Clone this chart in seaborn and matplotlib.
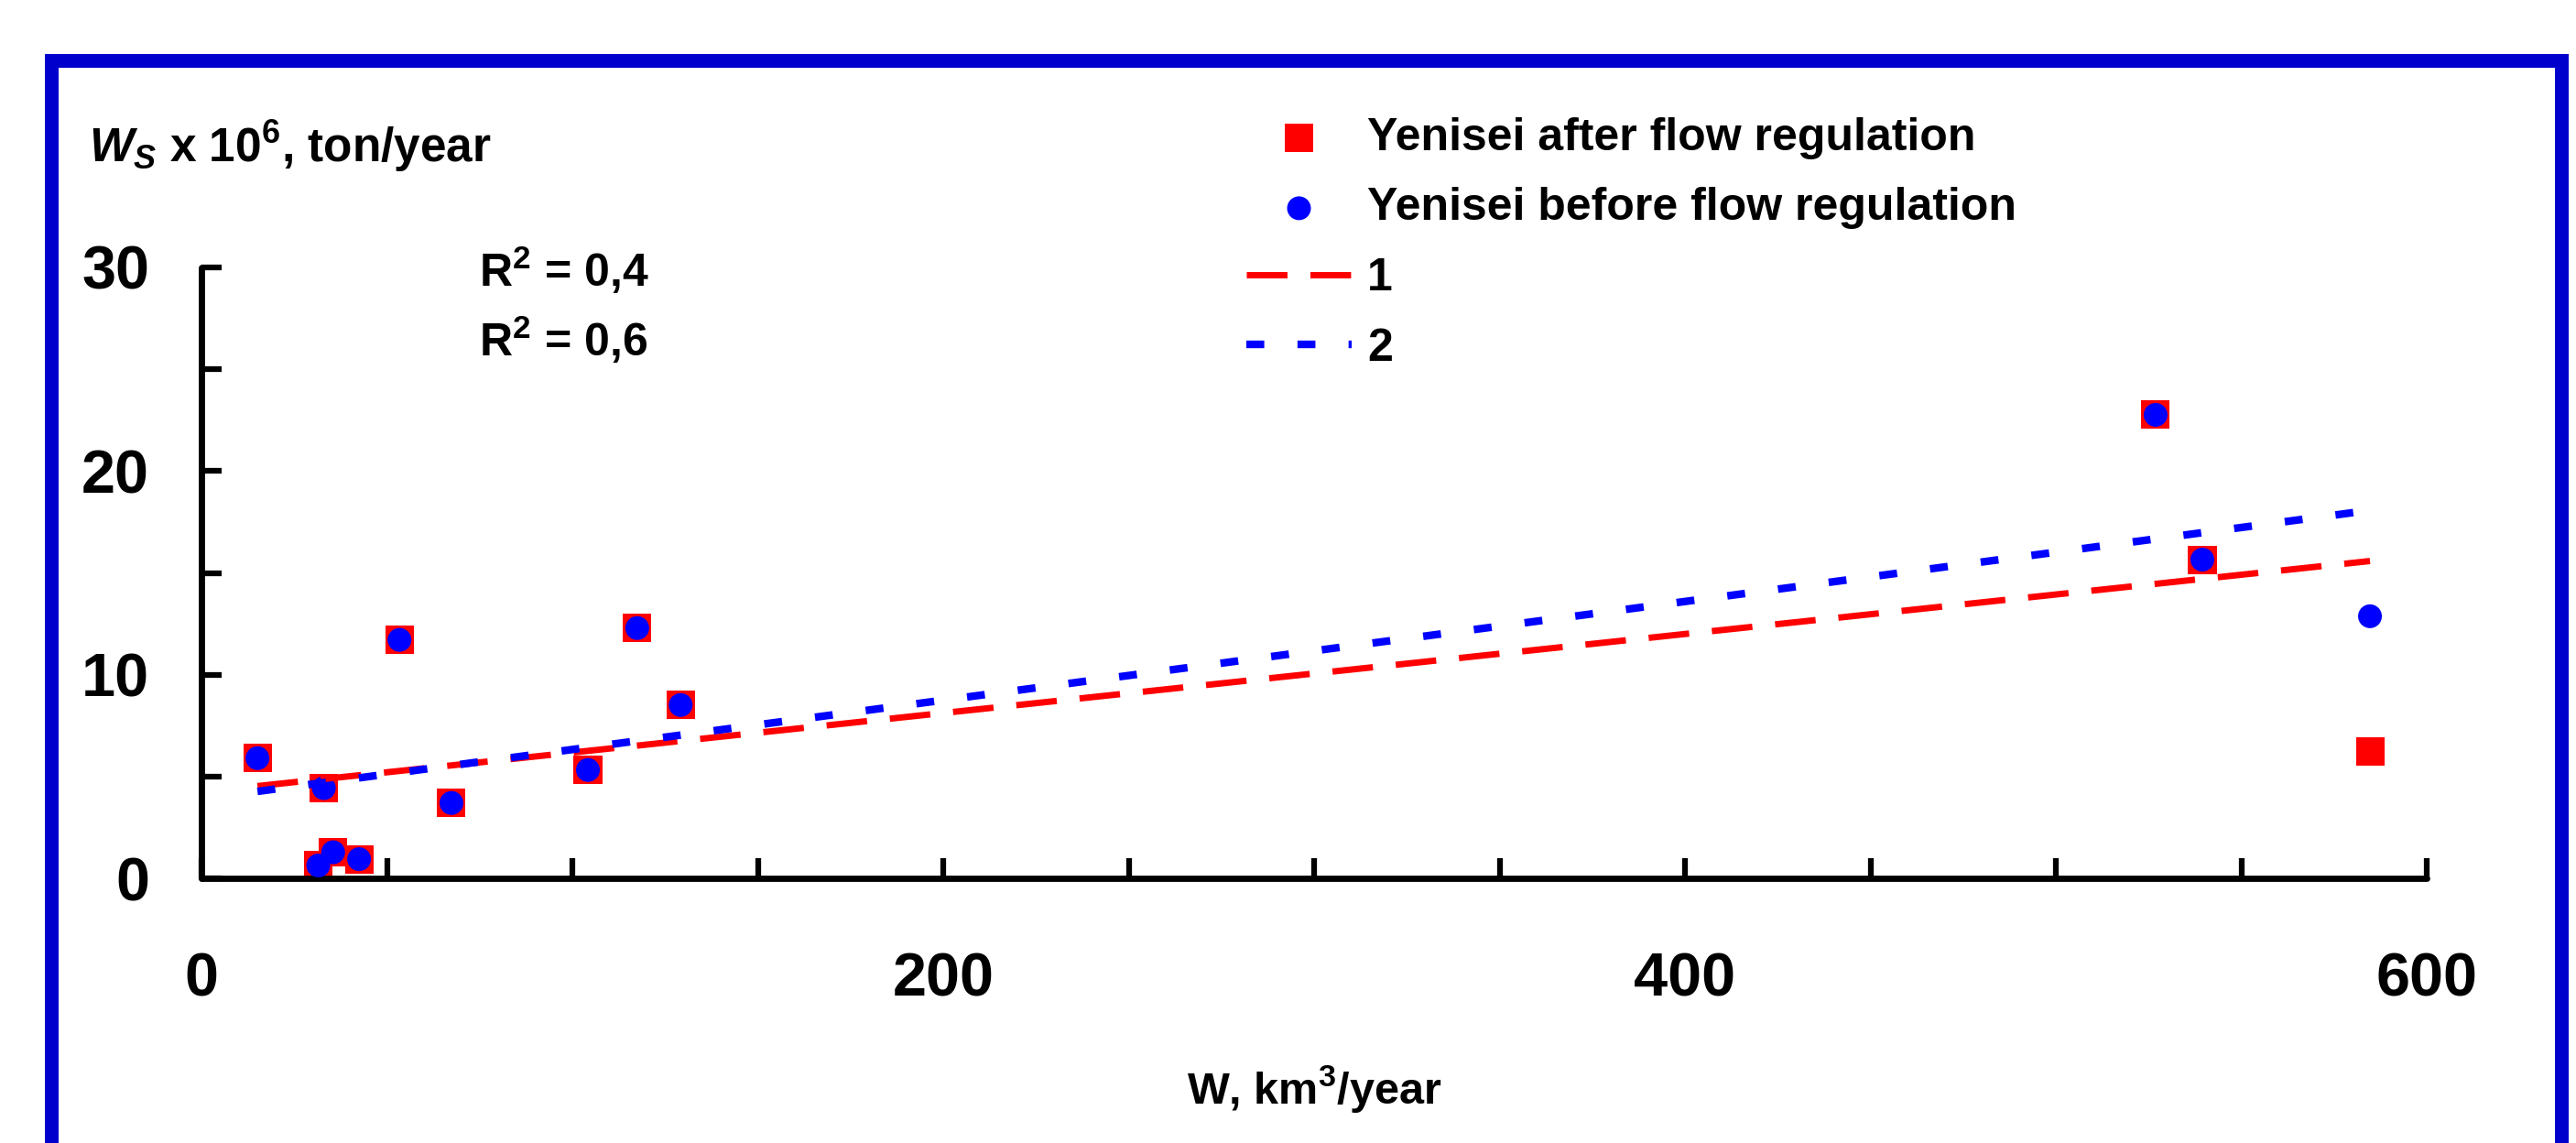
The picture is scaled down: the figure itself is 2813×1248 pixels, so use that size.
import numpy as np
import matplotlib
matplotlib.use("Agg")
import matplotlib.pyplot as plt
from matplotlib.patches import Rectangle
import seaborn as sns

# ---- data ----
w_flow = [15.1, 33.0, 31.5, 35.5, 42.5, 53.4, 67.4, 104.2, 117.5, 129.2, 526.9, 539.5, 584.7]
ws_before = [5.9, 4.43, 0.63, 1.28, 0.94, 11.71, 3.70, 5.32, 12.29, 8.51, 22.76, 15.65, 12.87]
ws_after = [5.9, 4.43, 0.63, 1.28, 0.94, 11.71, 3.70, 5.32, 12.29, 8.51, 22.76, 15.65, 6.21]
label_after = "Yenisei after flow regulation"
label_before = "Yenisei before flow regulation"
trend_labels = ["1", "2"]
r2_texts = ["R$^{\\mathrm{2}}$ = 0,4", "R$^{\\mathrm{2}}$ = 0,6"]
x_major = [0, 200, 400, 600]
y_major = [0, 10, 20, 30]

sns.set_style("ticks")
plt.rcParams["font.family"] = ["Liberation Sans", "DejaVu Sans"]
plt.rcParams["font.weight"] = "bold"
plt.rcParams["text.color"] = "black"
plt.rcParams["axes.labelcolor"] = "black"
plt.rcParams["xtick.color"] = "black"
plt.rcParams["ytick.color"] = "black"
plt.rcParams["xtick.labelcolor"] = "black"
plt.rcParams["ytick.labelcolor"] = "black"
plt.rcParams["mathtext.fontset"] = "custom"
plt.rcParams["mathtext.rm"] = "Liberation Sans:bold"
plt.rcParams["mathtext.it"] = "Liberation Sans:italic:bold"
plt.rcParams["mathtext.bf"] = "Liberation Sans:bold"

W, H = 2813, 1248
fig = plt.figure(figsize=(W / 100, H / 100), dpi=100)
fig.patch.set_facecolor("white")

def fx(px):
    return px / W

def fy(py):
    return 1 - py / H

ax = fig.add_axes([fx(220), fy(959), (2650 - 220) / W, (959 - 292) / H])
ax.set_facecolor("white")

RED = "#FF0000"
BLUE = "#0000FF"

sns.scatterplot(x=w_flow, y=ws_after, ax=ax, marker="s", s=500, color=RED,
                edgecolor="none", linewidth=0, label=label_after, zorder=2, clip_on=False)
sns.scatterplot(x=w_flow, y=ws_before, ax=ax, marker="o", s=350, color=BLUE,
                edgecolor="none", linewidth=0, label=label_before, zorder=3, clip_on=False)

sns.regplot(x=np.array(w_flow), y=np.array(ws_after), ax=ax, scatter=False, ci=None,
            truncate=True,
            line_kws=dict(color=RED, lw=5.0, linestyle=(0, (6.4, 3.6)), zorder=4))
line1 = ax.lines[-1]
line1.set_label(trend_labels[0])
sns.regplot(x=np.array(w_flow), y=np.array(ws_before), ax=ax, scatter=False, ci=None,
            truncate=True,
            line_kws=dict(color=BLUE, lw=6.0, linestyle=(0, (2.35, 4.35)), zorder=4))
line2 = ax.lines[-1]
line2.set_label(trend_labels[1])

ax.set_xlim(0, 600)
ax.set_ylim(0, 30)
ax.set_xlabel("")
ax.set_ylabel("")
ax.set_xticks(x_major)
ax.set_yticks(y_major)
ax.set_xticks(np.arange(0, 601, 50), minor=True)
ax.set_yticks(np.arange(0, 31, 5), minor=True)
for side in ["top", "right"]:
    ax.spines[side].set_visible(False)
for side in ["left", "bottom"]:
    ax.spines[side].set_linewidth(4.9)
    ax.spines[side].set_color("black")
    ax.spines[side].set_capstyle("round")
ax.tick_params(which="both", direction="in", length=16, width=4.5, color="black",
               labelcolor="black")
ax.tick_params(axis="x", which="major", labelsize=48, pad=58)
ax.tick_params(axis="y", which="major", labelsize=48, pad=41)
for lab in ax.get_xticklabels() + ax.get_yticklabels():
    lab.set_fontweight("bold")
    lab.set_color("black")

handles, labels = ax.get_legend_handles_labels()
hmap = dict(zip(labels, handles))
hmap[trend_labels[0]] = line1
hmap[trend_labels[1]] = line2
order = [label_after, label_before, trend_labels[0], trend_labels[1]]
leg = ax.legend([hmap[k] for k in order], order, loc="upper left",
                bbox_to_anchor=(fx(1361), fy(128)), bbox_transform=fig.transFigure,
                frameon=False, fontsize=36, borderpad=0, borderaxespad=0,
                handlelength=2.3, handletextpad=0.34, labelspacing=0.61,
                scatterpoints=1, labelcolor="black")
for t in leg.get_texts():
    t.set_fontweight("bold")

fig.text(fx(97), fy(177), "$W_{S}$ x 10$^{\\mathrm{6}}$, ton/year", fontsize=37,
         fontweight="bold", ha="left", va="baseline", color="black")
fig.text(fx(523), fy(313), r2_texts[0], fontsize=36, fontweight="bold",
         ha="left", va="baseline", color="black")
fig.text(fx(523), fy(389), r2_texts[1], fontsize=36, fontweight="bold",
         ha="left", va="baseline", color="black")
fig.text(fx(1435), fy(1205), "W, km$^{\\mathrm{3}}$/year", fontsize=35,
         fontweight="bold", ha="center", va="baseline", color="black")

fig.add_artist(Rectangle((fx(55.5), -0.1), (2796.5 - 55.5) / W, fy(66.5) + 0.1,
                         transform=fig.transFigure, fill=False, ec="#0000CC",
                         lw=10.8, zorder=10))

fig.savefig("out.png", dpi=100, facecolor="white")
